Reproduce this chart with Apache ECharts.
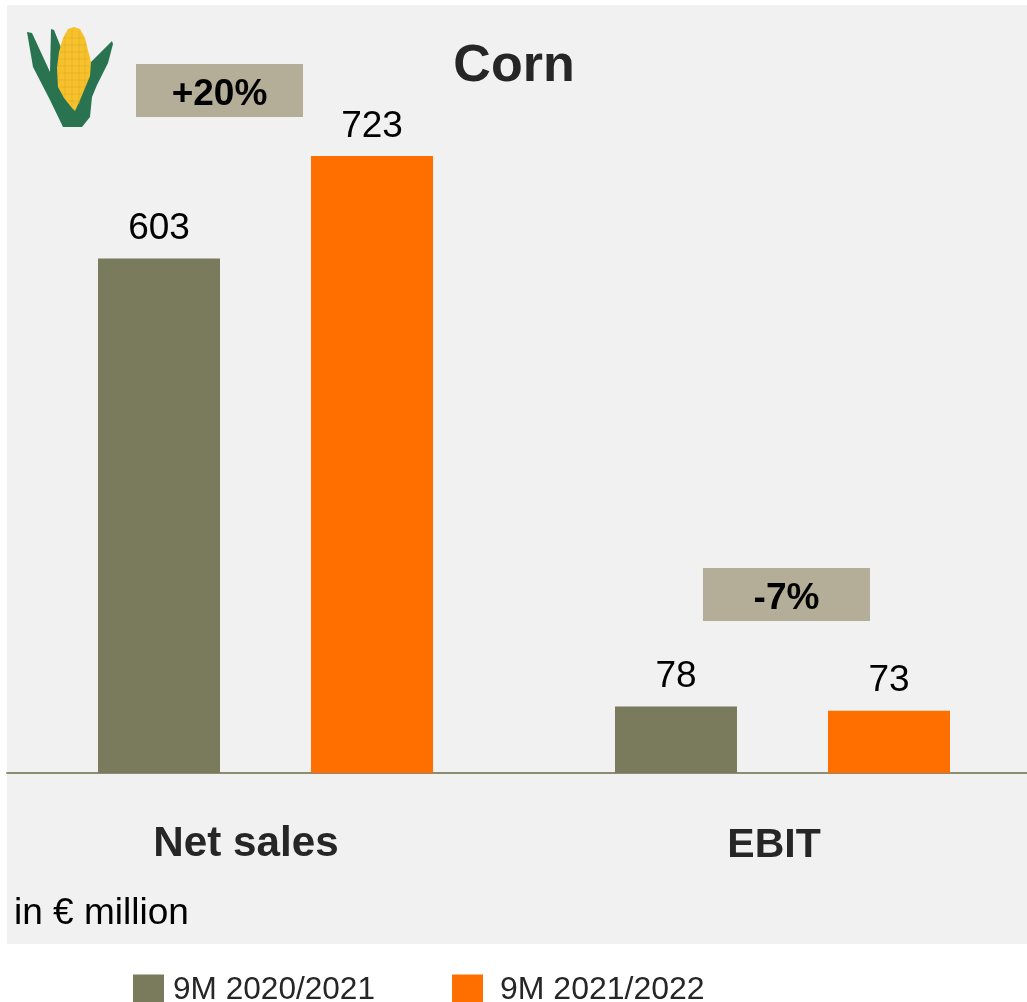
<!DOCTYPE html>
<html>
<head>
<meta charset="utf-8">
<style>html,body{margin:0;padding:0;background:#fff;overflow:hidden;width:1027px;height:1002px}#c{width:1050px;height:1002px}</style>
<script src="https://cdn.jsdelivr.net/npm/echarts@6/dist/echarts.min.js"></script>
</head>
<body>
<div id="c"></div>
<script>
const categories = ['Net sales', 'EBIT'];
const series2021 = [603, 78];
const series2022 = [723, 73];
const seriesNames = ['9M 2020/2021', '9M 2021/2022'];
const changes = ['+20%', '-7%'];
const titleText = 'Corn';
const unitText = 'in € million';

const FONT = '"Liberation Sans", Arial, sans-serif';
const chart = echarts.init(document.getElementById('c'), null, {renderer: 'canvas'});

function changeBox(x, y, text) {
  return {
    type: 'group', x, y, z: 5,
    children: [
      {type: 'rect', shape: {x: 0, y: 0, width: 167, height: 53}, style: {fill: '#b4ae99'}},
      {type: 'text', x: 83.5, y: 31, style: {text, font: 'bold 37px ' + FONT, fill: '#000', textAlign: 'center', textVerticalAlign: 'middle'}}
    ]
  };
}
const GREEN = '#2a7350';
const KERNEL = {stroke: '#dfa526', lineWidth: 1, opacity: 0.5};
const kernelLines = [];
[[38,64,84],[45,61,86],[52,60,87],[59,59,88],[66,58,89],[73,58,89],[80,58,88],[87,59,85],[94,62,82],[101,69,79]].forEach(r =>
  kernelLines.push({type: 'line', z: 8, shape: {x1: r[1], y1: r[0], x2: r[2], y2: r[0]}, style: KERNEL}));
[[65,36,98],[72,30,106],[79,31,104],[85,42,86]].forEach(r =>
  kernelLines.push({type: 'line', z: 8, shape: {x1: r[0], y1: r[1], x2: r[0], y2: r[2]}, style: KERNEL}));

chart.setOption({
  animation: false,
  backgroundColor: '#ffffff',
  grid: {left: 7, top: 5, width: 1034, height: 768, containLabel: false},
  xAxis: {
    type: 'category', data: categories,
    axisTick: {show: false},
    axisLine: {lineStyle: {color: '#8c8c72', width: 2}},
    axisLabel: {
      margin: 50,
      interval: 0,
      formatter: (v, i) => '{' + (i === 0 ? 'a' : 'b') + '|' + v + '}',
      rich: {
        a: {fontSize: 42.2, fontWeight: 'bold', fontFamily: FONT, color: '#262626', padding: [0, 39, 0, 0]},
        b: {fontSize: 41, fontWeight: 'bold', fontFamily: FONT, color: '#262626', padding: [2, 17, 0, 0]}
      }
    }
  },
  yAxis: {type: 'value', min: 0, max: 900, show: false, splitLine: {show: false}},
  legend: [
    {data: [seriesNames[0]], left: 133, top: 974, itemWidth: 31, itemHeight: 31, itemGap: 0, padding: 0,
     icon: 'rect', textStyle: {fontSize: 31.6, fontFamily: FONT, color: '#262626', padding: [0, 0, 0, 4]}},
    {data: [seriesNames[1]], left: 452, top: 974, itemWidth: 31, itemHeight: 31, itemGap: 0, padding: 0,
     icon: 'rect', textStyle: {fontSize: 32, fontFamily: FONT, color: '#262626', padding: [0, 0, 0, 12]}}
  ],
  series: [
    {name: seriesNames[0], type: 'bar', data: series2021, barWidth: 122, barGap: '74.6%',
     itemStyle: {color: '#7a7a5c'},
     label: {show: true, position: 'top', distance: 11, fontSize: 37, fontFamily: FONT, color: '#000'}},
    {name: seriesNames[1], type: 'bar', data: series2022, barWidth: 122,
     itemStyle: {color: '#ff6f00'},
     label: {show: true, position: 'top', distance: 11, fontSize: 37, fontFamily: FONT, color: '#000'}}
  ],
  graphic: [
    {type: 'rect', z: -10, shape: {x: 7, y: 5, width: 1020, height: 939}, style: {fill: '#f1f1f1'}},
    {type: 'text', z: 5, x: 514, y: 67, style: {text: titleText, font: 'bold 52px ' + FONT, fill: '#262626', textAlign: 'center', textVerticalAlign: 'middle'}},
    {type: 'text', z: 5, x: 14, y: 914, style: {text: unitText, font: '37px ' + FONT, fill: '#000', textAlign: 'left', textVerticalAlign: 'middle'}},
    changeBox(136, 64, changes[0]),
    changeBox(703, 568, changes[1]),
    {type: 'polygon', z: 6, shape: {points: [[27,32],[32,33],[50,72],[51,29],[54,30],[62,50],[90,63],[112,41],[113,44],[108,63],[97,85],[92,97],[90,117],[82,127],[63,127],[50,100],[33,67]]}, style: {fill: GREEN}},
    {type: 'polygon', z: 7, shape: {points: [[74,27],[80,29],[85,38],[88,50],[91,62],[90,76],[85,88],[80,100],[75,111],[72,108],[64,98],[58,87],[57,68],[59,52],[63,38],[68,29]]}, style: {fill: '#f6c22c'}},
    ...kernelLines
  ]
});
</script>
</body>
</html>
